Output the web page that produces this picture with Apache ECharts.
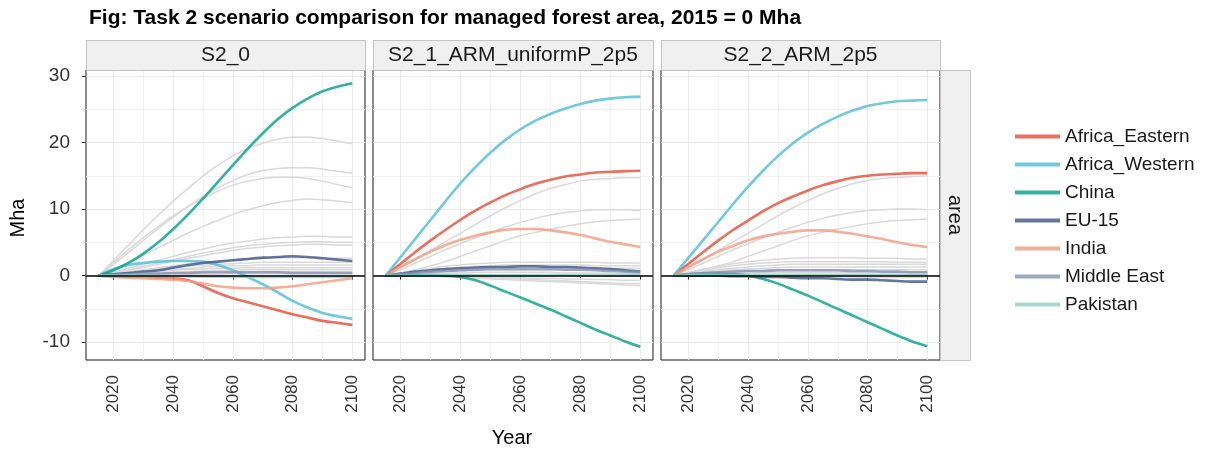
<!DOCTYPE html>
<html>
<head>
<meta charset="utf-8">
<script src="https://cdn.jsdelivr.net/npm/echarts@6/dist/echarts.min.js"></script>
<style>
body { margin: 0; padding: 0; background: #fff; }
#main { width: 1207px; height: 453px; }
</style>
</head>
<body>
<div id="main"></div>
<script>
// years are 5-yearly, 2015 = 0
const years = [2015, 2020, 2025, 2030, 2035, 2040, 2045, 2050, 2055, 2060, 2065, 2070, 2075, 2080, 2085, 2090, 2095, 2100]
const scenarios = ['S2_0', 'S2_1_ARM_uniformP_2p5', 'S2_2_ARM_2p5']
const regions = ['Africa_Eastern', 'Africa_Western', 'China', 'EU-15', 'India', 'Middle East', 'Pakistan']
const yTicks = [-10, 0, 10, 20, 30]
const xTicks = [2020, 2040, 2060, 2080, 2100]

// S2_0
const africaEastern0 = [0, -0.1, -0.2, -0.2, -0.3, -0.4, -0.7, -1.6, -2.6, -3.4, -4.0, -4.6, -5.2, -5.8, -6.3, -6.8, -7.1, -7.4]
const africaWestern0 = [0, 1.0, 1.6, 1.9, 2.1, 2.2, 2.2, 2.1, 1.6, 0.8, -0.2, -1.3, -2.5, -3.8, -4.8, -5.6, -6.1, -6.5]
const china0 = [0, 0.8, 1.9, 3.3, 5.0, 7.0, 9.2, 11.6, 14.1, 16.6, 19.1, 21.4, 23.5, 25.2, 26.6, 27.7, 28.4, 28.9]
const eu0 = [0, 0.2, 0.4, 0.6, 0.8, 1.2, 1.6, 1.9, 2.1, 2.3, 2.5, 2.7, 2.8, 2.9, 2.8, 2.6, 2.4, 2.2]
const india0 = [0, -0.2, -0.3, -0.4, -0.5, -0.6, -0.8, -1.2, -1.6, -1.8, -1.9, -1.9, -1.8, -1.6, -1.3, -1.0, -0.7, -0.4]
const middleEast0 = [0, 0.1, 0.2, 0.3, 0.3, 0.4, 0.4, 0.5, 0.5, 0.5, 0.5, 0.5, 0.5, 0.4, 0.4, 0.4, 0.4, 0.4]
const pakistan0 = [0, 0, 0, 0, -0.05, -0.1, -0.1, -0.15, -0.15, -0.2, -0.2, -0.2, -0.2, -0.2, -0.2, -0.2, -0.2, -0.2]
const others0 = [
  [0, 2.3, 4.6, 6.9, 9.1, 11.2, 13.1, 15.0, 16.6, 18.0, 19.1, 19.9, 20.5, 20.8, 20.8, 20.6, 20.2, 19.8],
  [0, 1.7, 3.5, 5.3, 7.1, 8.8, 10.4, 11.9, 13.2, 14.3, 15.2, 15.8, 16.1, 16.2, 16.2, 16.0, 15.7, 15.4],
  [0, 2.0, 3.9, 5.7, 7.4, 9.0, 10.4, 11.6, 12.7, 13.6, 14.2, 14.6, 14.8, 14.8, 14.6, 14.2, 13.7, 13.2],
  [0, 1.0, 2.0, 3.1, 4.2, 5.3, 6.4, 7.4, 8.3, 9.2, 9.9, 10.5, 11.0, 11.3, 11.5, 11.4, 11.2, 11.0],
  [0, 0.5, 1.1, 1.7, 2.3, 2.9, 3.5, 4.0, 4.5, 4.9, 5.2, 5.5, 5.7, 5.8, 5.9, 5.9, 5.8, 5.8],
  [0, 0.4, 0.9, 1.4, 1.9, 2.4, 2.9, 3.4, 3.8, 4.2, 4.5, 4.7, 4.9, 5.0, 5.1, 5.1, 5.0, 5.0],
  [0, 0.4, 0.8, 1.2, 1.7, 2.2, 2.6, 3.0, 3.4, 3.8, 4.1, 4.3, 4.5, 4.6, 4.7, 4.7, 4.6, 4.6],
  [0, 0.3, 0.6, 0.9, 1.2, 1.5, 1.8, 2.0, 2.2, 2.4, 2.5, 2.6, 2.7, 2.7, 2.7, 2.7, 2.6, 2.6],
  [0, 0.2, 0.5, 0.8, 1.0, 1.2, 1.4, 1.6, 1.7, 1.8, 1.9, 2.0, 2.0, 2.0, 2.0, 2.0, 2.0, 2.0],
  [0, 0.2, 0.4, 0.6, 0.8, 1.0, 1.1, 1.3, 1.4, 1.5, 1.5, 1.6, 1.6, 1.6, 1.6, 1.6, 1.6, 1.6],
  [0, 0.1, 0.3, 0.5, 0.6, 0.8, 0.9, 1.0, 1.1, 1.1, 1.2, 1.2, 1.2, 1.2, 1.2, 1.2, 1.2, 1.2],
  [0, 0.1, 0.2, 0.3, 0.4, 0.5, 0.6, 0.7, 0.8, 0.8, 0.9, 0.9, 0.9, 0.9, 0.9, 0.9, 0.9, 0.9],
  [0, 0.1, 0.1, 0.2, 0.3, 0.3, 0.4, 0.4, 0.5, 0.5, 0.5, 0.6, 0.6, 0.6, 0.6, 0.6, 0.6, 0.6],
  [0, 0, 0.1, 0.1, 0.1, 0.2, 0.2, 0.2, 0.2, 0.3, 0.3, 0.3, 0.3, 0.3, 0.3, 0.3, 0.3, 0.3],
  [0, 0, 0, 0, 0, -0.1, -0.1, -0.1, -0.1, -0.1, -0.1, -0.1, -0.1, -0.1, -0.1, -0.1, -0.1, -0.1]
]

// S2_1_ARM_uniformP_2p5
const africaEastern1 = [0, 1.8, 3.6, 5.3, 6.9, 8.4, 9.8, 11.0, 12.1, 13.0, 13.8, 14.4, 14.9, 15.2, 15.5, 15.6, 15.7, 15.75]
const africaWestern1 = [0, 2.8, 5.6, 8.4, 11.2, 13.9, 16.3, 18.5, 20.4, 22.0, 23.3, 24.3, 25.1, 25.8, 26.3, 26.6, 26.8, 26.9]
const china1 = [0, 0.1, 0.1, 0.1, 0, -0.2, -0.7, -1.5, -2.4, -3.3, -4.2, -5.1, -6.1, -7.1, -8.1, -9.0, -9.9, -10.7]
const eu1 = [0, 0.3, 0.6, 0.8, 1.0, 1.1, 1.2, 1.3, 1.3, 1.4, 1.4, 1.3, 1.3, 1.2, 1.1, 1.0, 0.8, 0.6]
const india1 = [0, 1.3, 2.5, 3.6, 4.6, 5.4, 6.0, 6.5, 6.9, 7.0, 7.0, 6.8, 6.5, 6.1, 5.6, 5.1, 4.7, 4.3]
const middleEast1 = [0, 0.2, 0.4, 0.6, 0.7, 0.8, 0.9, 1.0, 1.0, 1.0, 1.0, 1.0, 0.9, 0.9, 0.8, 0.7, 0.6, 0.5]
const pakistan1 = [0, 0, 0, 0.1, 0.1, 0.1, 0.1, 0.1, 0.1, 0.1, 0.1, 0.1, 0.1, 0.1, 0.1, 0.1, 0.1, 0.1]
const others1 = [
  [0, 1.2, 2.5, 3.8, 5.1, 6.4, 7.7, 9.0, 10.2, 11.3, 12.3, 13.1, 13.7, 14.2, 14.5, 14.6, 14.7, 14.7],
  [0, 0.9, 1.9, 2.9, 3.9, 4.8, 5.7, 6.5, 7.3, 8.0, 8.6, 9.1, 9.5, 9.7, 9.9, 9.9, 9.9, 9.8],
  [0, 0.4, 0.9, 1.5, 2.1, 2.9, 3.7, 4.5, 5.3, 6.0, 6.5, 7.0, 7.4, 7.8, 8.1, 8.3, 8.4, 8.5],
  [0, 0.4, 0.8, 1.1, 1.4, 1.6, 1.8, 1.9, 2.0, 2.0, 2.0, 2.0, 2.0, 2.0, 2.0, 1.9, 1.9, 1.9],
  [0, 0.3, 0.6, 0.9, 1.1, 1.3, 1.4, 1.5, 1.6, 1.6, 1.6, 1.6, 1.6, 1.6, 1.5, 1.5, 1.5, 1.5],
  [0, 0.3, 0.5, 0.7, 0.9, 1.0, 1.1, 1.2, 1.2, 1.2, 1.2, 1.2, 1.2, 1.2, 1.2, 1.1, 1.1, 1.1],
  [0, 0.2, 0.4, 0.5, 0.6, 0.7, 0.8, 0.8, 0.8, 0.8, 0.8, 0.8, 0.8, 0.8, 0.8, 0.8, 0.7, 0.7],
  [0, 0.1, 0.2, 0.3, 0.4, 0.4, 0.5, 0.5, 0.5, 0.5, 0.5, 0.5, 0.4, 0.4, 0.4, 0.4, 0.3, 0.3],
  [0, 0.1, 0.1, 0.1, 0.1, 0.1, 0.1, 0.1, 0.1, 0.1, 0, 0, 0, -0.1, -0.1, -0.1, -0.1, -0.1],
  [0, 0, 0, 0, -0.1, -0.1, -0.2, -0.2, -0.3, -0.3, -0.4, -0.4, -0.5, -0.5, -0.6, -0.6, -0.7, -0.7],
  [0, 0, 0, -0.1, -0.1, -0.2, -0.3, -0.3, -0.4, -0.5, -0.6, -0.7, -0.8, -0.9, -1.0, -1.1, -1.2, -1.2],
  [0, 0, 0, -0.1, -0.2, -0.3, -0.4, -0.5, -0.6, -0.7, -0.8, -0.9, -1.0, -1.1, -1.2, -1.3, -1.4, -1.5]
]

// S2_2_ARM_2p5
const africaEastern2 = [0, 1.8, 3.6, 5.3, 6.9, 8.3, 9.7, 10.9, 11.9, 12.8, 13.6, 14.2, 14.7, 15.0, 15.2, 15.3, 15.4, 15.4]
const africaWestern2 = [0, 2.7, 5.4, 8.1, 10.8, 13.4, 15.8, 18.0, 19.9, 21.5, 22.8, 23.9, 24.8, 25.5, 25.9, 26.2, 26.3, 26.4]
const china2 = [0, 0.2, 0.3, 0.3, 0.2, 0, -0.5, -1.2, -2.1, -3.0, -4.0, -5.0, -6.0, -7.0, -8.0, -9.0, -9.9, -10.6]
const eu2 = [0, 0, 0, 0, -0.1, -0.1, -0.2, -0.2, -0.3, -0.4, -0.4, -0.5, -0.6, -0.6, -0.7, -0.8, -0.9, -0.9]
const india2 = [0, 1.3, 2.5, 3.6, 4.5, 5.3, 5.9, 6.3, 6.6, 6.8, 6.8, 6.6, 6.3, 5.9, 5.5, 5.0, 4.6, 4.3]
const middleEast2 = [0, 0.2, 0.4, 0.5, 0.6, 0.7, 0.7, 0.8, 0.8, 0.8, 0.8, 0.8, 0.7, 0.7, 0.6, 0.6, 0.5, 0.5]
const pakistan2 = [0, 0.05, 0.1, 0.1, 0.1, 0.1, 0.1, 0.1, 0.1, 0.1, 0.1, 0.1, 0.1, 0.1, 0.1, 0.1, 0.1, 0.1]
const others2 = [
  [0, 1.2, 2.5, 3.8, 5.1, 6.4, 7.7, 9.0, 10.2, 11.3, 12.3, 13.1, 13.8, 14.3, 14.6, 14.8, 14.9, 15.0],
  [0, 0.9, 1.9, 2.9, 3.9, 4.8, 5.7, 6.5, 7.3, 8.0, 8.6, 9.1, 9.5, 9.8, 9.9, 10.0, 10.0, 9.9],
  [0, 0.4, 0.9, 1.5, 2.1, 2.9, 3.7, 4.5, 5.3, 6.0, 6.5, 7.0, 7.4, 7.8, 8.1, 8.3, 8.4, 8.5],
  [0, 0.5, 1.0, 1.4, 1.8, 2.1, 2.3, 2.5, 2.6, 2.7, 2.7, 2.7, 2.7, 2.6, 2.6, 2.6, 2.5, 2.5],
  [0, 0.4, 0.8, 1.2, 1.5, 1.7, 1.9, 2.0, 2.1, 2.1, 2.1, 2.1, 2.1, 2.1, 2.1, 2.0, 2.0, 2.0],
  [0, 0.3, 0.6, 0.9, 1.1, 1.3, 1.5, 1.6, 1.7, 1.7, 1.7, 1.7, 1.7, 1.7, 1.7, 1.7, 1.7, 1.7],
  [0, 0.3, 0.5, 0.7, 0.9, 1.0, 1.1, 1.2, 1.3, 1.3, 1.3, 1.3, 1.3, 1.3, 1.3, 1.3, 1.3, 1.3],
  [0, 0.2, 0.4, 0.5, 0.6, 0.7, 0.8, 0.9, 0.9, 0.9, 0.9, 0.9, 0.9, 0.9, 0.9, 0.9, 0.9, 0.9],
  [0, 0.1, 0.2, 0.3, 0.4, 0.4, 0.5, 0.5, 0.5, 0.5, 0.5, 0.5, 0.5, 0.5, 0.5, 0.5, 0.5, 0.5],
  [0, 0.1, 0.1, 0.1, 0.2, 0.2, 0.2, 0.2, 0.2, 0.2, 0.2, 0.2, 0.2, 0.2, 0.2, 0.2, 0.2, 0.2],
  [0, 0, 0, 0, -0.1, -0.1, -0.1, -0.1, -0.2, -0.2, -0.2, -0.2, -0.2, -0.3, -0.3, -0.3, -0.3, -0.3]
]

const highlighted = [
  [africaEastern0, africaWestern0, china0, eu0, india0, middleEast0, pakistan0],
  [africaEastern1, africaWestern1, china1, eu1, india1, middleEast1, pakistan1],
  [africaEastern2, africaWestern2, china2, eu2, india2, middleEast2, pakistan2]
]
const others = [others0, others1, others2]

// npg palette at alpha 0.8
const colors = ['rgba(230,75,53,0.8)', 'rgba(77,187,213,0.8)', 'rgba(0,160,135,0.8)', 'rgba(60,84,136,0.8)',
  'rgba(243,155,127,0.8)', 'rgba(132,145,180,0.8)', 'rgba(145,209,194,0.8)']

const font = '"Liberation Sans", Arial, sans-serif'
const panelLeft = [86, 373, 661]
const panelWidth = [279, 280, 279]
const panelTop = 70
const panelHeight = 290

function pairs (arr) {
  return years.map(function (y, i) { return [y, arr[i]] })
}

let grids = []
let xAxes = []
let yAxes = []
let series = []
let graphics = []

for (let p = 0; p < 3; p++) {
  grids.push({
    left: panelLeft[p], top: panelTop, width: panelWidth[p], height: panelHeight,
    containLabel: false, outerBoundsMode: 'none',
    show: true, borderColor: '#1a1a1a', borderWidth: 1, backgroundColor: '#fff', z: 0
  })
  xAxes.push({
    type: 'value', gridIndex: p, min: 2010.75, max: 2104.25,
    axisLine: { show: false },
    axisTick: { show: true, length: 4, lineStyle: { color: '#333' }, customValues: xTicks },
    axisLabel: {
      rotate: 90, fontSize: 17, color: '#333', fontFamily: font, margin: 15,
      customValues: xTicks, formatter: function (v) { return String(v) }
    },
    splitLine: { show: true, lineStyle: { color: '#ebebeb', width: 1 } },
    minorTick: { show: false, splitNumber: 2 },
    minorSplitLine: { show: true, lineStyle: { color: '#f2f2f2', width: 1 } }
  })
  yAxes.push({
    type: 'value', gridIndex: p, min: -12.68, max: 30.9, splitNumber: 4,
    axisLine: { show: false },
    axisTick: { show: p === 0, length: 4, lineStyle: { color: '#333' }, customValues: yTicks },
    axisLabel: {
      show: p === 0, fontSize: 19, color: '#333', fontFamily: font, margin: 16,
      customValues: yTicks
    },
    splitLine: { show: true, lineStyle: { color: '#ebebeb', width: 1 } },
    minorTick: { show: false, splitNumber: 2 },
    minorSplitLine: { show: true, lineStyle: { color: '#f2f2f2', width: 1 } }
  })

  others[p].forEach(function (arr, k) {
    series.push({
      type: 'line', name: 'other' + p + '_' + k, xAxisIndex: p, yAxisIndex: p,
      data: pairs(arr), showSymbol: false, smooth: 0.3, silent: true, z: 2,
      lineStyle: { color: '#d9d9d9', width: 1.5 }
    })
  })
  highlighted[p].forEach(function (arr, r) {
    let s = {
      type: 'line', name: regions[r], xAxisIndex: p, yAxisIndex: p,
      data: pairs(arr), showSymbol: false, smooth: 0.3, silent: true, z: 3,
      itemStyle: { color: colors[r] },
      lineStyle: { color: colors[r], width: 2.6 }
    }
    if (r === regions.length - 1) {
      s.markLine = {
        silent: true, symbol: 'none', label: { show: false },
        lineStyle: { color: '#000', width: 1.5, type: 'solid' },
        data: [{ yAxis: 0 }]
      }
    }
    series.push(s)
  })

  // facet strip on top
  graphics.push({
    type: 'rect', left: panelLeft[p], top: 40,
    shape: { width: panelWidth[p], height: 30 },
    style: { fill: '#f0f0f0', stroke: '#c4c4c4', lineWidth: 1 }, z: 10
  })
  graphics.push({
    type: 'text', x: panelLeft[p] + panelWidth[p] / 2, y: 55,
    style: { text: scenarios[p], font: '21px ' + font, fill: '#1a1a1a', textAlign: 'center', textVerticalAlign: 'middle' },
    z: 11
  })
}

// right strip
graphics.push({
  type: 'rect', left: 940, top: 70,
  shape: { width: 30, height: 290 },
  style: { fill: '#f0f0f0', stroke: '#c4c4c4', lineWidth: 1 }, z: 10
})
graphics.push({
  type: 'text', x: 955, y: 215, rotation: -Math.PI / 2,
  style: { text: 'area', font: '20px ' + font, fill: '#1a1a1a', textAlign: 'center', textVerticalAlign: 'middle' },
  z: 11
})
// axis titles
graphics.push({
  type: 'text', x: 18, y: 218, rotation: Math.PI / 2,
  style: { text: 'Mha', font: '20px ' + font, fill: '#000', textAlign: 'center', textVerticalAlign: 'middle' },
  z: 11
})
graphics.push({
  type: 'text', x: 512, y: 438,
  style: { text: 'Year', font: '20px ' + font, fill: '#000', textAlign: 'center', textVerticalAlign: 'middle' },
  z: 11
})

let chart = echarts.init(document.getElementById('main'), null, { renderer: 'canvas' })
chart.setOption({
  animation: false,
  backgroundColor: '#fff',
  title: {
    text: 'Fig: Task 2 scenario comparison for managed forest area, 2015 = 0 Mha',
    left: 84, top: 3,
    textStyle: { fontSize: 21, fontWeight: 'bold', color: '#000', fontFamily: font }
  },
  legend: {
    data: regions, orient: 'vertical', left: 1010, top: 122,
    icon: 'rect', itemWidth: 45, itemHeight: 4, itemGap: 9,
    textStyle: { fontSize: 19, color: '#1a1a1a', fontFamily: font, lineHeight: 19 }
  },
  grid: grids,
  xAxis: xAxes,
  yAxis: yAxes,
  series: series,
  graphic: graphics
})
</script>
</body>
</html>
